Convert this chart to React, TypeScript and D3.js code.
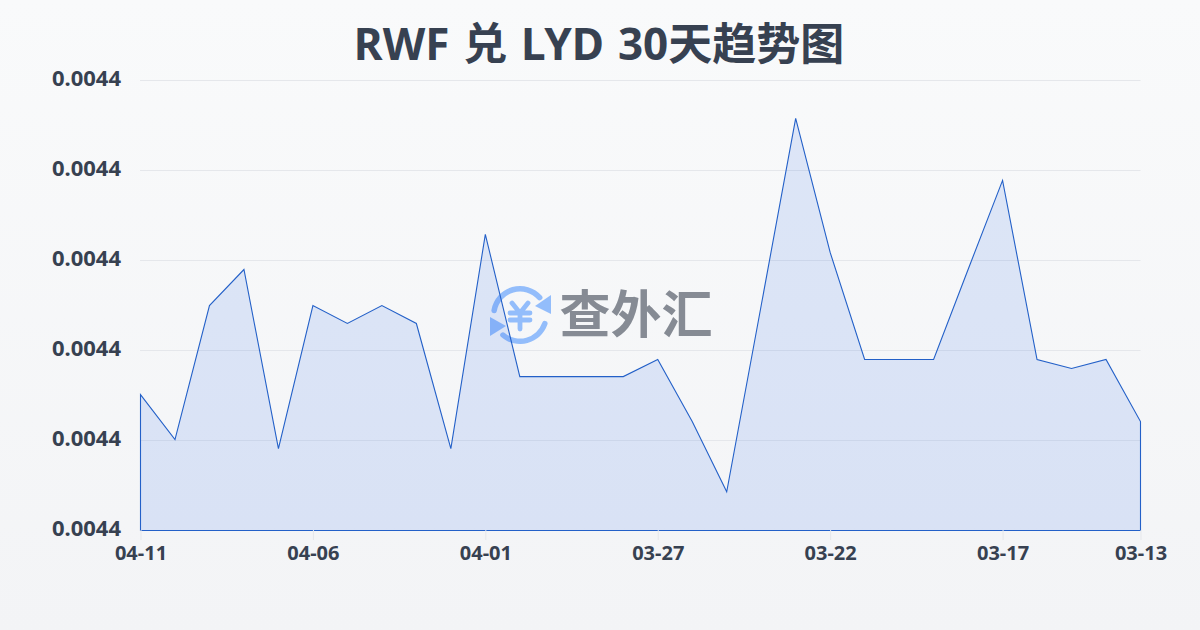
import { useEffect, useRef } from 'react';
import * as d3 from 'd3';

const dates = [
  '04-11', '04-10', '04-09', '04-08', '04-07', '04-06', '04-05', '04-04', '04-03', '04-02',
  '04-01', '03-31', '03-30', '03-29', '03-28', '03-27', '03-26', '03-25', '03-24', '03-23',
  '03-22', '03-21', '03-20', '03-19', '03-18', '03-17', '03-16', '03-15', '03-14', '03-13',
];
const rates = [
  0.0043951, 0.0043901, 0.004405, 0.004409, 0.0043891, 0.004405, 0.004403, 0.004405, 0.004403, 0.0043891,
  0.0044129, 0.0043971, 0.0043971, 0.0043971, 0.0043971, 0.004399, 0.0043921, 0.0043843, 0.004405, 0.0044258,
  0.0044109, 0.004399, 0.004399, 0.004399, 0.004409, 0.0044189, 0.004399, 0.004398, 0.004399, 0.0043921,
];
const yTicks = [0.00438, 0.00439, 0.0044, 0.00441, 0.00442, 0.00443];
const xTickLabels = ['04-11', '04-06', '04-01', '03-27', '03-22', '03-17', '03-13'];

const WIDTH = 1200;
const HEIGHT = 630;
const FONT = '"Noto Sans", "Noto Sans CJK SC", sans-serif';
const INK = '#374151';
const LOGO_BLUE = '#93bdfb';

export default function App() {
  const svgRef = useRef<SVGSVGElement | null>(null);

  useEffect(() => {
    const svg = d3.select(svgRef.current);
    svg.selectAll('*').remove();

    const defs = svg.append('defs');
    const bg = defs
      .append('linearGradient')
      .attr('id', 'bg')
      .attr('x1', 0)
      .attr('y1', 0)
      .attr('x2', 0)
      .attr('y2', 1);
    bg.append('stop').attr('offset', '0%').attr('stop-color', '#f9fafb');
    bg.append('stop').attr('offset', '100%').attr('stop-color', '#f3f4f6');

    svg.append('rect').attr('width', WIDTH).attr('height', HEIGHT).attr('fill', 'url(#bg)');

    // Scales
    const xScale = d3.scalePoint<string>().domain(dates).range([140.5, 1140.5]);
    const yScale = d3.scaleLinear().domain([0.00438, 0.00443]).range([530.5, 80.5]);

    // Grid
    svg
      .append('g')
      .selectAll('line')
      .data(yTicks)
      .join('line')
      .attr('x1', 140)
      .attr('x2', 1140.5)
      .attr('y1', (d) => yScale(d))
      .attr('y2', (d) => yScale(d))
      .attr('stroke', '#e5e7eb')
      .attr('stroke-width', 1);

    // Watermark
    const logo = svg.append('g').attr('transform', 'translate(520,315)');
    const ring = d3.arc<any>().innerRadius(23.5).outerRadius(29).cornerRadius(2.7);
    logo
      .append('path')
      .attr('d', ring({ startAngle: -1.5, endAngle: 0.95 }))
      .attr('fill', LOGO_BLUE);
    logo
      .append('path')
      .attr('d', ring({ startAngle: 1.8, endAngle: 3.95 }))
      .attr('fill', LOGO_BLUE);
    logo.append('path').attr('d', 'M31,-20V-1L15,-9Z').attr('fill', LOGO_BLUE);
    logo.append('path').attr('d', 'M-30,2V21L-14,11Z').attr('fill', LOGO_BLUE);
    logo
      .append('path')
      .attr('d', 'M-8,-12L0,-2L8,-12M-10,-2H10M-10,5H10M0,-2V14')
      .attr('fill', 'none')
      .attr('stroke', LOGO_BLUE)
      .attr('stroke-width', 4.8)
      .attr('stroke-linecap', 'round');
    svg
      .append('text')
      .attr('x', 636)
      .attr('y', 333)
      .attr('text-anchor', 'middle')
      .attr('font-family', '"Noto Sans CJK SC", sans-serif')
      .attr('font-weight', 700)
      .attr('font-size', 51)
      .attr('fill', '#868b94')
      .text('查外汇');

    // Area + line
    const area = d3
      .area<number>()
      .x((_, i) => xScale(dates[i]) as number)
      .y0(yScale(0.00438))
      .y1((d) => yScale(d));
    svg
      .append('path')
      .datum(rates)
      .attr('d', (d) => `${area(d)}`)
      .attr('fill', 'rgba(37,99,235,0.13)')
      .attr('stroke', '#2360c8')
      .attr('stroke-width', 1.1);

    // y labels
    svg
      .append('g')
      .selectAll('text')
      .data(yTicks)
      .join('text')
      .attr('x', 121)
      .attr('y', (d) => yScale(d) + 5.5)
      .attr('text-anchor', 'end')
      .attr('font-family', FONT)
      .attr('font-weight', 700)
      .attr('font-size', 22)
      .attr('fill', INK)
      .text((d) => d.toFixed(4));

    // x axis
    const xAxis = d3
      .axisBottom(xScale)
      .tickValues(xTickLabels)
      .tickSize(10)
      .tickPadding(6);
    const xGroup = svg.append('g').attr('transform', 'translate(0,530)').call(xAxis);
    xGroup.select('.domain').remove();
    xGroup.selectAll('.tick line').attr('stroke', '#e5e7eb');
    xGroup
      .selectAll('.tick text')
      .attr('font-family', FONT)
      .attr('font-weight', 700)
      .attr('font-size', 20)
      .attr('fill', INK);

    // Title
    svg
      .append('text')
      .attr('x', 599)
      .attr('y', 60)
      .attr('text-anchor', 'middle')
      .attr('font-family', FONT)
      .attr('font-weight', 700)
      .attr('font-size', 44)
      .attr('word-spacing', 2.4)
      .attr('fill', INK)
      .text('RWF 兑 LYD 30天趋势图');
  }, []);

  return (
    <svg
      ref={svgRef}
      width={WIDTH}
      height={HEIGHT}
      style={{ position: 'fixed', left: 0, top: 0, display: 'block' }}
    />
  );
}
